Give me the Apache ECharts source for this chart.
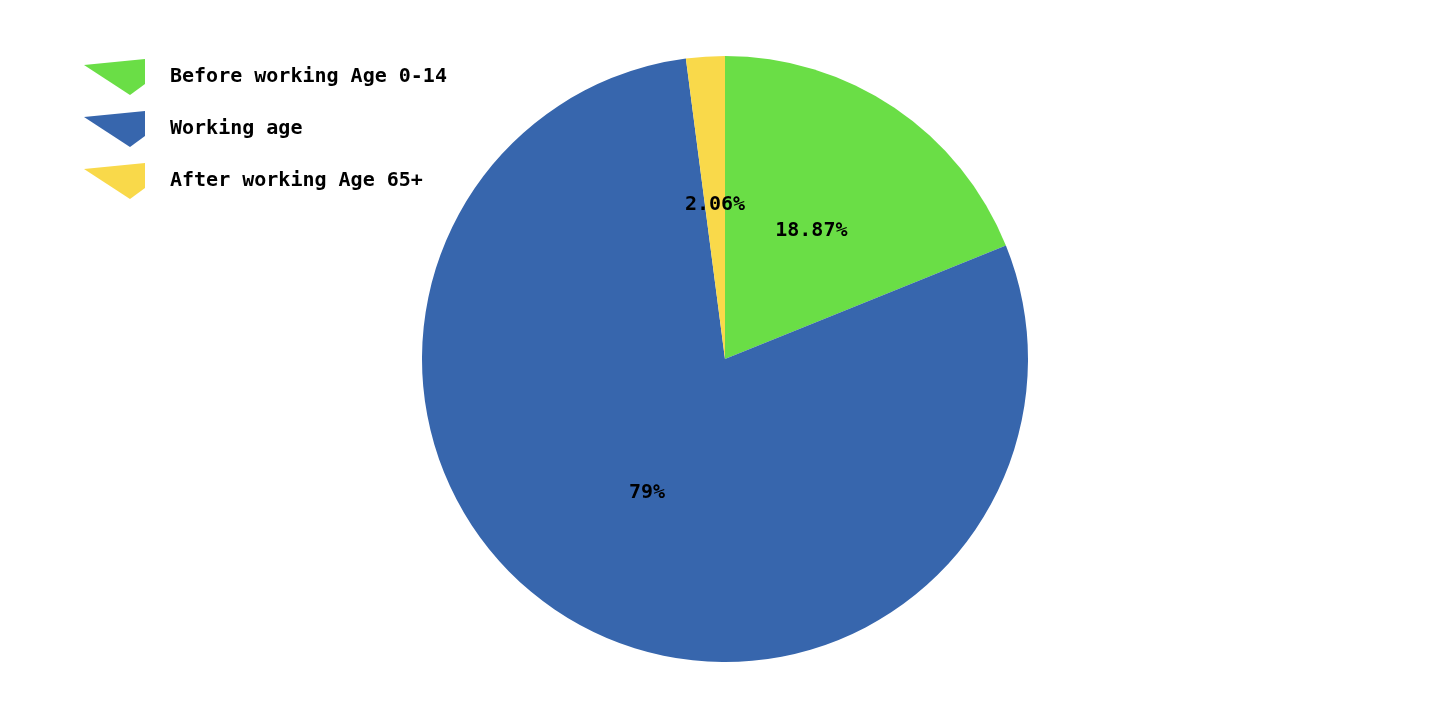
<!DOCTYPE html>
<html>
<head>
<meta charset="utf-8">
<script src="https://cdn.jsdelivr.net/npm/echarts@6/dist/echarts.min.js"></script>
<style>html,body{margin:0;padding:0;background:#fff;}#c{width:1434px;height:724px;}</style>
</head>
<body>
<div id="c"></div>
<script>
const categories = ['Before working Age 0-14', 'Working age', 'After working Age 65+'];
const values = [18.87, 79, 2.06];
const colors = ['#6ade46', '#3766ad', '#f9d94a'];

const chart = echarts.init(document.getElementById('c'), null, {renderer: 'canvas'});
const font = '"DejaVu Sans Mono", monospace';
chart.setOption({
  animation: false,
  backgroundColor: '#ffffff',
  color: colors,
  legend: {
    orient: 'vertical',
    left: 84,
    top: 59,
    padding: 0,
    itemWidth: 61,
    itemHeight: 36,
    itemGap: 16,
    icon: 'path://M0,6 L61,0 L61,25 L46,36 Z',
    textStyle: {fontFamily: font, fontWeight: 'bold', fontSize: 20, color: '#000', padding: [0, 0, 0, 20]},
    data: categories
  },
  series: [{
    type: 'pie',
    center: [725, 359],
    radius: 303,
    startAngle: 90,
    clockwise: true,
    avoidLabelOverlap: false,
    label: {
      show: true,
      position: 'inside',
      fontFamily: font,
      fontWeight: 'bold',
      fontSize: 20,
      color: '#000',
      formatter: p => p.value + '%'
    },
    labelLine: {show: false},
    itemStyle: {borderWidth: 0},
    emphasis: {disabled: true},
    data: categories.map((n, i) => ({name: n, value: values[i]}))
  }]
});
</script>
</body>
</html>
